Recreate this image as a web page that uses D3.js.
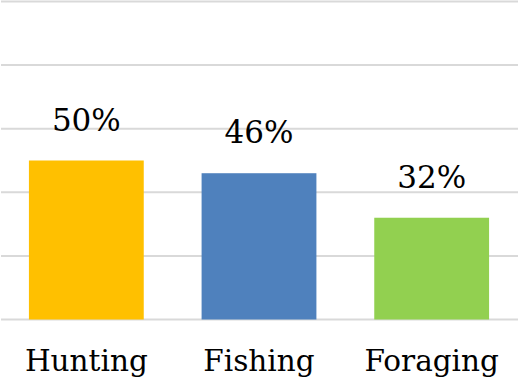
<!DOCTYPE html>
<html>
<head>
<meta charset="utf-8">
<script src="https://cdn.jsdelivr.net/npm/d3@7"></script>
<style>
html,body{margin:0;padding:0;background:#fff;}
svg{display:block;}
</style>
</head>
<body>
<svg id="chart" width="518" height="384"></svg>
<script>
const categories = ["Hunting", "Fishing", "Foraging"];
const values = [50, 46, 32];
const colors = ["#FFC000", "#4F81BD", "#92D050"];
const gridTicks = [0, 20, 40, 60, 80, 100];

const W = 518, H = 384;
const FONT = "DejaVu Serif";
const svg = d3.select("#chart");

const x = d3.scaleBand().domain(categories).range([0, W])
  .paddingInner(0.335).paddingOuter(0.1675);
const y = d3.scaleLinear().domain([0, 100]).range([319.5, 1.5]);

// gridlines
svg.append("g").selectAll("line").data(gridTicks).join("line")
  .attr("x1", 1).attr("x2", W)
  .attr("y1", d => y(d)).attr("y2", d => y(d))
  .attr("stroke", "#d9d9d9").attr("stroke-width", 2);

// bars
svg.append("g").selectAll("rect").data(values).join("rect")
  .attr("x", (d, i) => x(categories[i]))
  .attr("width", x.bandwidth())
  .attr("y", d => y(d))
  .attr("height", d => y(0) - y(d))
  .attr("fill", (d, i) => colors[i]);

// value labels
svg.append("g").selectAll("text").data(values).join("text")
  .attr("x", (d, i) => x(categories[i]) + x.bandwidth() / 2)
  .attr("y", d => y(d) - 30)
  .attr("text-anchor", "middle")
  .attr("font-family", FONT)
  .attr("font-size", 31)
  .attr("fill", "#000")
  .text(d => d + "%");

// category labels via axis
const xAxis = d3.axisBottom(x).tickSize(0).tickPadding(0);
const gx = svg.append("g").attr("transform", "translate(0,371)").call(xAxis)
  .attr("font-family", FONT).attr("font-size", 29.5);
gx.select(".domain").remove();
gx.selectAll("text")
  .attr("dy", 0).attr("y", 0)
  .attr("fill", "#000");
</script>
</body>
</html>
